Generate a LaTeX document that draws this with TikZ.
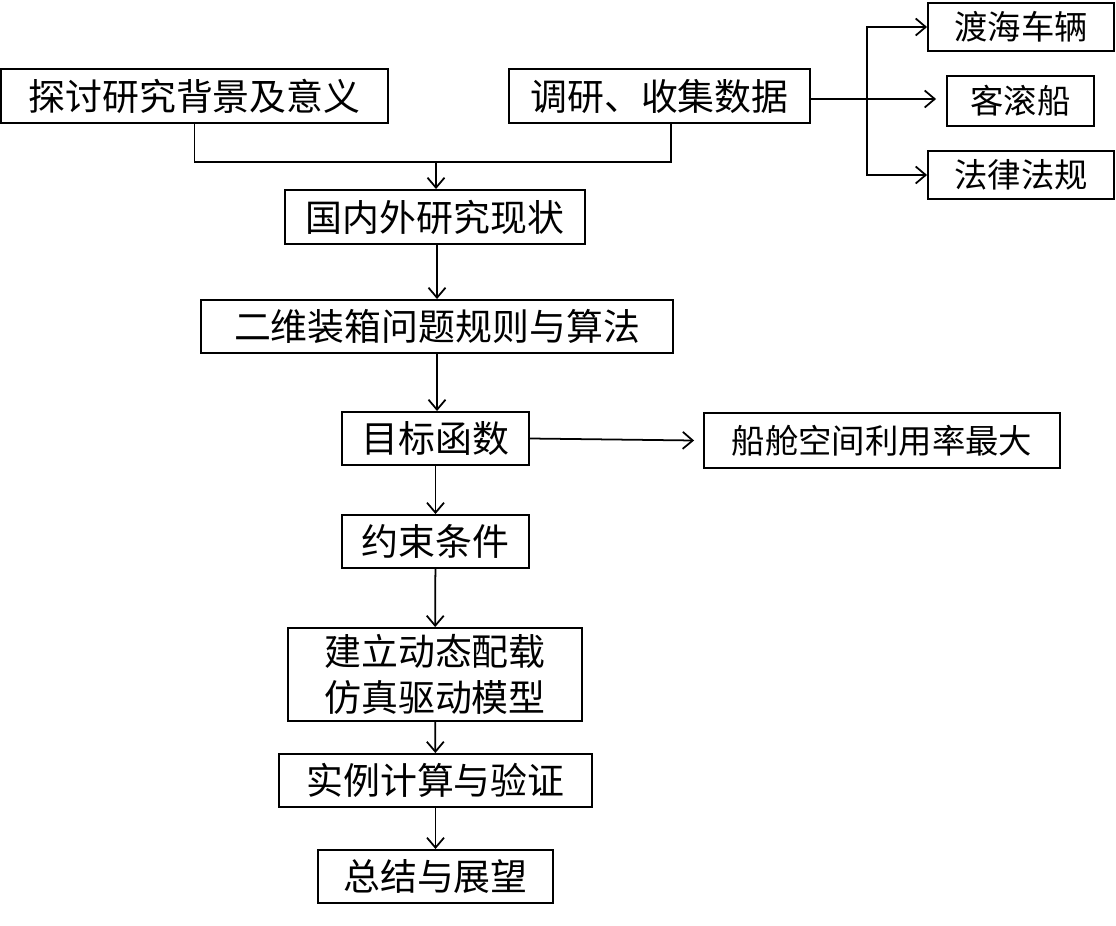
\documentclass[tikz,border=0pt]{standalone}
\usepackage{fontspec}
\setmainfont{Noto Sans CJK SC}
\usetikzlibrary{arrows.meta}

\begin{document}
\begin{tikzpicture}[x=0.02cm, y=-0.02cm,
  box/.style={draw, line width=1.1pt, inner sep=0pt, align=center,
    font=\fontsize{21}{26}\selectfont},
  sbox/.style={box, font=\fontsize{19}{23}\selectfont},
  arr/.style={-{Straight Barb[length=2mm,width=3.4mm]}, line width=1pt}]
  \useasboundingbox (0,0) rectangle (1116,926);
  % top row
  \node[box, minimum width=7.74cm, minimum height=1.08cm] (bg) at (194.5,96) {探讨研究背景及意义};
  \node[box, minimum width=6.02cm, minimum height=1.08cm] (data) at (659.5,96) {调研、收集数据};
  % data sources
  \node[sbox, minimum width=3.72cm, minimum height=0.96cm] (vehicle) at (1021,27) {渡海车辆};
  \node[sbox, minimum width=2.94cm, minimum height=1.00cm] (ship) at (1020.5,101) {客滚船};
  \node[sbox, minimum width=3.72cm, minimum height=0.96cm] (law) at (1021,175) {法律法规};
  % main chain
  \node[box, minimum width=6.00cm, minimum height=1.08cm] (status) at (435,217) {国内外研究现状};
  \node[box, minimum width=9.44cm, minimum height=1.06cm] (packing) at (437,326.5) {二维装箱问题规则与算法};
  \node[box, minimum width=3.74cm, minimum height=1.06cm] (obj) at (435.5,438.5) {目标函数};
  \node[sbox, minimum width=7.12cm, minimum height=1.10cm] (util) at (882,440.5) {船舱空间利用率最大};
  \node[box, minimum width=3.74cm, minimum height=1.06cm] (cons) at (435.5,541.5) {约束条件};
  \node[box, minimum width=5.88cm, minimum height=1.86cm] (model) at (435,674.5) {建立动态配载\\仿真驱动模型};
  \node[box, minimum width=6.26cm, minimum height=1.06cm] (case) at (435.5,780.5) {实例计算与验证};
  \node[box, minimum width=4.70cm, minimum height=1.06cm] (sum) at (435.5,876.5) {总结与展望};
  % connectors
  \coordinate (join) at (436,162);
  \coordinate (fork) at (867,99);
  \draw[line width=1pt] (bg.south) |- (join) -| ([xshift=0.23cm]data.south);
  \draw[arr] (join) -- (join |- status.north);
  \draw[arr] (data.east |- fork) -- ([xshift=-0.2cm]ship.west |- fork);
  \draw[arr] (fork) |- (vehicle.west);
  \draw[arr] (fork) |- (law.west);
  \draw[arr] ([xshift=0.04cm]status.south) -- ([xshift=0.04cm]status.south |- packing.north);
  \draw[arr] (packing.south) -- (packing.south |- obj.north);
  \draw[arr] (obj.east) -- ([xshift=-0.18cm]util.west);
  \draw[arr] (obj) -- (cons);
  \draw[arr] (cons) -- (model);
  \draw[arr] (model) -- (case);
  \draw[arr] (case) -- (sum);
\end{tikzpicture}
\end{document}
